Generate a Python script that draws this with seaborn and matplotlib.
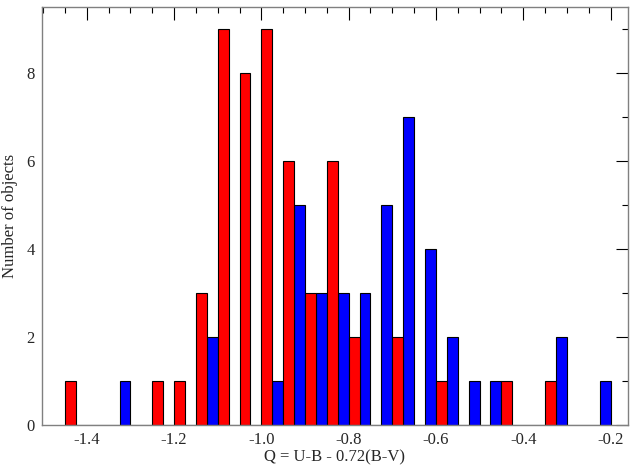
import numpy as np
import pandas as pd
import matplotlib
matplotlib.use("Agg")
import matplotlib.pyplot as plt
import seaborn as sns
from matplotlib.ticker import MultipleLocator, FuncFormatter

# bin left edges (bin width 0.05) and counts
red_bins = [-1.45, -1.25, -1.20, -1.15, -1.10, -1.05, -1.00, -0.95, -0.90, -0.85, -0.80, -0.70, -0.60, -0.45, -0.35]
red_counts = [1, 1, 1, 3, 9, 8, 9, 6, 3, 6, 2, 2, 1, 1, 1]
blue_bins = [-1.35, -1.15, -1.00, -0.95, -0.90, -0.85, -0.80, -0.75, -0.70, -0.65, -0.60, -0.55, -0.50, -0.35, -0.25]
blue_counts = [1, 2, 1, 5, 3, 3, 3, 5, 7, 4, 2, 1, 1, 2, 1]

x_label = "Q = U-B - 0.72(B-V)"
y_label = "Number of objects"

BW = 0.05
df = pd.DataFrame({
    "q": [b + BW / 2 for b in red_bins] + [b + BW / 2 for b in blue_bins],
    "n": red_counts + blue_counts,
    "grp": ["red"] * len(red_bins) + ["blue"] * len(blue_bins),
})

sns.set_style("white")
plt.rcParams["font.family"] = ["Liberation Serif", "DejaVu Serif"]
plt.rcParams["axes.unicode_minus"] = False

fig = plt.figure(figsize=(6.34, 4.72), dpi=100)
ax = fig.add_axes([0.066, 0.0996, 0.9245, 0.885])

sns.histplot(data=df, x="q", weights="n", hue="grp", hue_order=["red", "blue"],
             palette={"red": "#ff0000", "blue": "#0000ff"},
             binwidth=BW, binrange=(-1.45, -0.20), multiple="dodge", shrink=1,
             alpha=1, edgecolor="black", linewidth=0.8, legend=False, ax=ax)

ax.set_xlim(-1.503, -0.16)
ax.set_ylim(0, 9.5)
ax.xaxis.set_major_locator(MultipleLocator(0.2))
ax.xaxis.set_minor_locator(MultipleLocator(0.05))
ax.yaxis.set_major_locator(MultipleLocator(2))
ax.yaxis.set_minor_locator(MultipleLocator(1))
ax.xaxis.set_major_formatter(FuncFormatter(lambda v, p: f"{v:.1f}"))
ax.tick_params(which="both", direction="in", top=True, right=True, labelsize=12, color="black")
ax.tick_params(which="major", length=9, width=0.8, pad=5)
ax.tick_params(which="minor", length=4, width=0.8)
for s in ax.spines.values():
    s.set_color("#808080")
    s.set_linewidth(1.0)
ax.set_xlabel(x_label, fontsize=12, labelpad=1)
ax.set_ylabel(y_label, fontsize=12, labelpad=6)

fig.savefig("out.png", dpi=100)
